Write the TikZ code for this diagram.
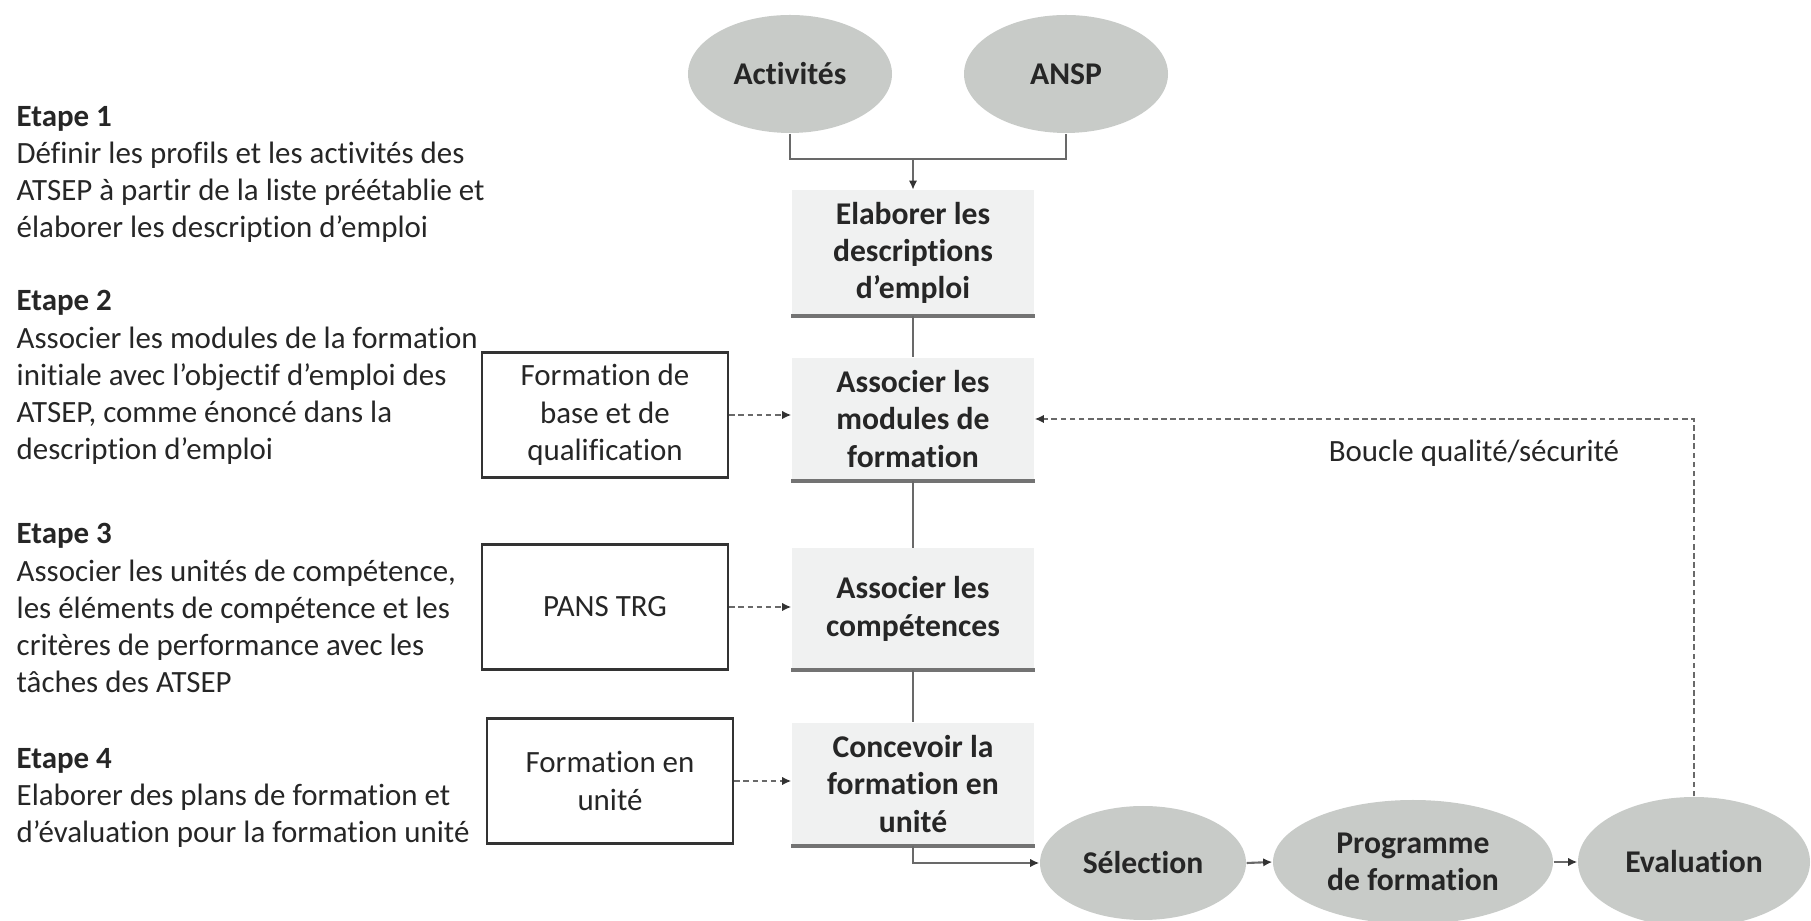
\documentclass[tikz,border=0pt]{standalone}
\usepackage{fontspec}
\setmainfont[Ligatures=NoCommon]{Carlito}
\usepackage{tikz}
\usetikzlibrary{arrows.meta,positioning,shapes.geometric}
\usepackage{xcolor}
\definecolor{ovalgray}{RGB}{200,203,200}
\definecolor{taskfill}{RGB}{240,241,241}
\definecolor{inktext}{RGB}{38,38,38}
\definecolor{linkgray}{RGB}{105,105,105}

\begin{document}
\begin{tikzpicture}[x=0.1mm,y=-0.1mm,
  every node/.style={font=\fontsize{8.8}{10.6}\selectfont, text=inktext},
  oval/.style={ellipse, fill=ovalgray, inner sep=0pt, align=center,
    font=\fontsize{9}{10.6}\selectfont\bfseries},
  task/.style={rectangle, fill=taskfill, minimum width=24.2mm, align=center,
    font=\fontsize{9}{10.6}\selectfont\bfseries},
  source/.style={rectangle, draw=black!80, line width=0.7pt, minimum width=24.6mm,
    minimum height=12.5mm, align=center},
  stepnote/.style={anchor=base west, align=left, inner sep=0pt},
  link/.style={draw=linkgray, line width=0.6pt},
  arr/.style={link, -{Latex[length=2.6pt,width=2.4pt,color=black!80]}},
  dasharr/.style={arr, dash pattern=on 1.6pt off 1pt}]
  \useasboundingbox (0,0) rectangle (1811,921);
  % steps on the left (anchored at the last line)
  \node[stepnote] (step1) at (16,238) {\textbf{Etape 1}\\Définir les profils et les activités des\\ATSEP à partir de la liste préétablie et\\élaborer les description d’emploi};
  \node[stepnote] (step2) at (16,460) {\textbf{Etape 2}\\Associer les modules de la formation\\initiale avec l’objectif d’emploi des\\ATSEP, comme énoncé dans la\\description d’emploi};
  \node[stepnote] (step3) at (16,693) {\textbf{Etape 3}\\Associer les unités de compétence,\\les éléments de compétence et les\\critères de performance avec les\\tâches des ATSEP};
  \node[stepnote] (step4) at (16,843) {\textbf{Etape 4}\\Elaborer des plans de formation et\\d’évaluation pour la formation unité};
  % inputs
  \node[oval, minimum width=20.4mm, minimum height=11.8mm] (act) at (790,74) {Activités};
  \node[oval, minimum width=20.4mm, minimum height=11.8mm] (ansp) at (1066,74) {ANSP};
  \coordinate (join) at (913,159);
  % main column
  \node[task, minimum height=11.4mm] (elab) at (913,253) {Elaborer les\\descriptions\\d’emploi};
  \node[task, minimum height=12.2mm] (modu) at (913,419) {Associer les\\modules de\\formation};
  \node[task, minimum height=12.1mm] (comp) at (913,609) {Associer les\\compétences};
  \node[task, minimum height=12.2mm] (conc) at (913,784) {Concevoir la\\formation en\\unité};
  \foreach \n in {elab,modu,comp,conc}{\draw[line width=1.1pt, black!55] (\n.south west) -- (\n.south east);}
  \node[source] (base) at (605,415) {Formation de\\base et de\\qualification};
  \node[source] (pans) at (605,607) {PANS TRG};
  \node[source] (unit) at (610,781) {Formation en\\unité};
  % bottom row
  \node[oval, minimum width=20.6mm, minimum height=11.4mm] (sel) at (1143,863) {Sélection};
  \node[oval, minimum width=28mm, minimum height=12.4mm] (prog) at (1413,862) {Programme\\de formation};
  \node[oval, minimum width=23.2mm, minimum height=13mm] (eval) at (1694,862) {Evaluation};
  \node (loop) at (1474,453) {Boucle qualité/sécurité};
  % connectors
  \draw[link] (act.south) |- (join) -| (ansp.south);
  \draw[arr] (join) -- (elab.north);
  \draw[link] (elab.south) -- (modu.north);
  \draw[link] (modu.south) -- (comp.north);
  \draw[link] (comp.south) -- (conc.north);
  \draw[dasharr] (base.east) -- (base.east -| modu.west);
  \draw[dasharr] (pans.east) -- (pans.east -| comp.west);
  \draw[dasharr] (unit.east) -- (unit.east -| conc.west);
  \draw[arr] (conc.south) |- (sel.west);
  \draw[arr] (sel.east) -- (prog.west);
  \draw[arr] (prog.east) -- (eval.west);
  \draw[dasharr] (eval.north) |- (modu.east);
\end{tikzpicture}
\end{document}
